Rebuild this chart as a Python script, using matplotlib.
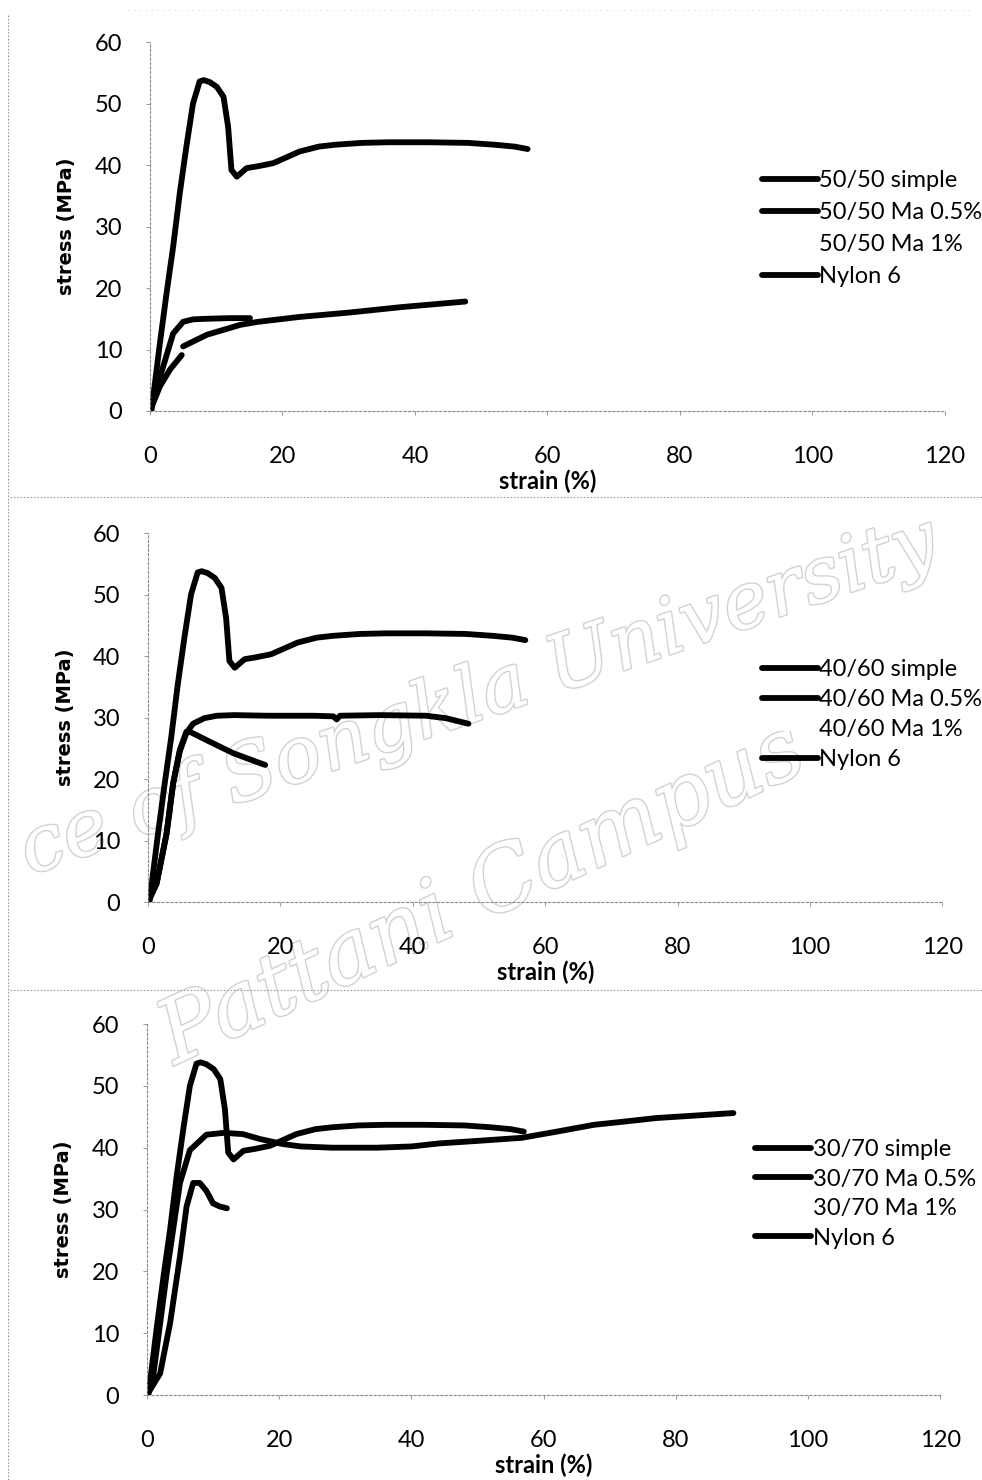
import numpy as np
import matplotlib
matplotlib.use("Agg")
import matplotlib.pyplot as plt
from matplotlib.lines import Line2D
import matplotlib.patheffects as pe

# stress-strain curves
# Nylon 6 (same curve on all three panels)
nylon_x = [0, 0.25, 1.5, 2.5, 3.5, 4.5, 5.5, 6.5, 7.5, 8.1, 9.0, 10.1, 11.1, 11.8, 12.3, 13.1,
           14.6, 16.3, 18.6, 20.5, 22.6, 25.5, 28, 32, 36, 42, 48, 52, 55, 57]
nylon_y = [0, 0.2, 11.0, 19.1, 26.7, 35.4, 43.0, 50.0, 53.6, 53.8, 53.5, 52.7, 51.1, 46.2, 39.2, 38.1,
           39.5, 39.8, 40.3, 41.2, 42.2, 43.0, 43.3, 43.6, 43.7, 43.7, 43.6, 43.3, 43.0, 42.6]

# 50/50
s50_simple_x = [0, 0.75, 2.3, 3.5, 5.0, 6.5, 8.6, 12.0, 15.1]
s50_simple_y = [0, 2.9, 8.3, 12.6, 14.5, 14.9, 15.0, 15.1, 15.1]
# the scan shows a small break in this curve near 5 %
s50_ma05_x = [0, 1.5, 3.0, 4.8, np.nan, 5.0, 8.6, 13.6, 16.3, 22.6, 30.0, 38.0, 47.6]
s50_ma05_y = [0, 4.0, 6.7, 9.1, np.nan, 10.5, 12.4, 14.0, 14.5, 15.3, 16.0, 16.9, 17.8]

# 40/60
s40_simple_x = [0, 1.3, 2.8, 3.8, 4.8, 5.8, 6.5, 8.9, 12.9, 16.4, 17.7]
s40_simple_y = [0, 3.0, 11.1, 19.3, 24.7, 27.7, 27.6, 26.3, 24.2, 22.8, 22.3]
s40_ma05_x = [0, 1.3, 2.8, 3.8, 4.8, 5.8, 6.8, 8.5, 10.4, 13, 18, 25, 28, 28.5, 29, 35, 42, 45, 48.4]
s40_ma05_y = [0, 3.0, 11.1, 19.3, 24.5, 27.5, 29.0, 29.9, 30.3, 30.4, 30.3, 30.3, 30.2, 29.7, 30.3,
              30.4, 30.3, 29.9, 29.0]

# 30/70
s30_simple_x = [0, 2.0, 3.5, 5.0, 6.0, 7.0, 8.0, 9.0, 10.0, 11.0, 12.1]
s30_simple_y = [0, 3.5, 11.6, 22.4, 30.5, 34.3, 34.3, 33.0, 31.0, 30.5, 30.2]
s30_ma05_x = [0, 1.0, 3.0, 5.0, 6.5, 9.0, 11.6, 14.5, 17.1, 20.5, 23.3, 28, 34.8,
              40, 44.3, 50, 56.7, 62, 67.6, 72, 77.1, 83, 88.7]
s30_ma05_y = [0, 3.5, 19.7, 34.3, 39.6, 42.1, 42.4, 42.2, 41.4, 40.6, 40.2, 40.0, 40.0,
              40.2, 40.7, 41.1, 41.6, 42.6, 43.7, 44.2, 44.8, 45.2, 45.6]

blends = ["50/50", "40/60", "30/70"]
simple_curves = [(s50_simple_x, s50_simple_y), (s40_simple_x, s40_simple_y), (s30_simple_x, s30_simple_y)]
ma05_curves = [(s50_ma05_x, s50_ma05_y), (s40_ma05_x, s40_ma05_y), (s30_ma05_x, s30_ma05_y)]

xticks = [0, 20, 40, 60, 80, 100, 120]
yticks = [0, 10, 20, 30, 40, 50, 60]

# axes boxes in figure fractions (left, bottom, width, height)
boxes = [(0.1527, 0.7223, 0.8096, 0.2493),
         (0.1507, 0.3905, 0.8090, 0.2493),
         (0.1496, 0.0574, 0.8080, 0.2507)]
# legend anchors (figure fraction, upper left) and row spacing
leg_anchor = [(0.776, 0.885), (0.776, 0.5548), (0.769, 0.2304)]
leg_spacing = [0.46, 0.38, 0.36]

fig = plt.figure(figsize=(9.82, 14.8), dpi=100)
fig.patch.set_facecolor("white")

lw = 4.2
for i in range(3):
    ax = fig.add_axes(boxes[i])
    ax.set_facecolor("none")
    sx, sy = simple_curves[i]
    mx, my = ma05_curves[i]
    ax.plot(sx, sy, color="black", lw=lw, solid_capstyle="round", solid_joinstyle="round",
            label=blends[i] + " simple")
    ax.plot(mx, my, color="black", lw=lw, solid_capstyle="round", solid_joinstyle="round",
            label=blends[i] + " Ma 0.5%")
    ax.plot([], [], color="white", lw=lw, label=blends[i] + " Ma 1%")
    ax.plot(nylon_x, nylon_y, color="black", lw=lw, solid_capstyle="round", solid_joinstyle="round",
            label="Nylon 6")

    ax.set_xlim(0, 120)
    ax.set_ylim(0, 60)
    ax.set_xticks(xticks)
    ax.set_yticks(yticks)
    for side in ["top", "right"]:
        ax.spines[side].set_visible(False)
    for side in ["left", "bottom"]:
        ax.spines[side].set_color("#8a8a8a")
        ax.spines[side].set_linewidth(0.8)
        ax.spines[side].set_linestyle((0, (2, 2)))
    ax.tick_params(axis="y", length=3, width=0.6, color="#8a8a8a", pad=17,
                   labelsize=17, labelfontfamily="Lato")
    ax.tick_params(axis="x", length=3, width=0.6, color="#8a8a8a", pad=22,
                   labelsize=17, labelfontfamily="Lato")
    ax.set_ylabel("stress (MPa)", fontsize=14, fontweight="bold", family="DejaVu Sans", labelpad=13)
    ax.set_xlabel("strain (%)", fontsize=17, fontweight="bold", family="Lato", labelpad=2)

    ax.legend(loc="upper left", bbox_to_anchor=leg_anchor[i], bbox_transform=fig.transFigure,
              frameon=False, prop={"family": "Lato", "size": 17}, handlelength=2.35,
              handletextpad=0.08, labelspacing=leg_spacing[i], borderpad=0, borderaxespad=0)

# scan separators
sep = dict(color="#9a9a9a", lw=0.8, linestyle=(0, (1.5, 1.5)), transform=fig.transFigure)
for yy in [1 - 497 / 1480, 1 - 990 / 1480]:
    fig.add_artist(Line2D([0.01, 1.0], [yy, yy], **sep))
fig.add_artist(Line2D([0.008, 0.008], [0.0, 0.99], **sep))
fig.add_artist(Line2D([0.13, 0.99], [1 - 10 / 1480, 1 - 10 / 1480], color="#c0c0c0", lw=0.6,
                      linestyle=(0, (1, 6)), transform=fig.transFigure))

# watermark
wm = dict(color="white", family="DejaVu Serif", style="italic", zorder=-5, rotation_mode="anchor",
          path_effects=[pe.withStroke(linewidth=2.0, foreground="#d2d2d2")])
fig.text(0.03, 1 - 875 / 1480, "ce of Songkla University", ha="left", va="baseline",
         rotation=19, fontsize=56, **wm)
fig.text(0.178, 1 - 1065 / 1480, "Pattani Campus", ha="left", va="baseline",
         rotation=25, fontsize=63, **wm)

fig.savefig("out.png", dpi=100)
